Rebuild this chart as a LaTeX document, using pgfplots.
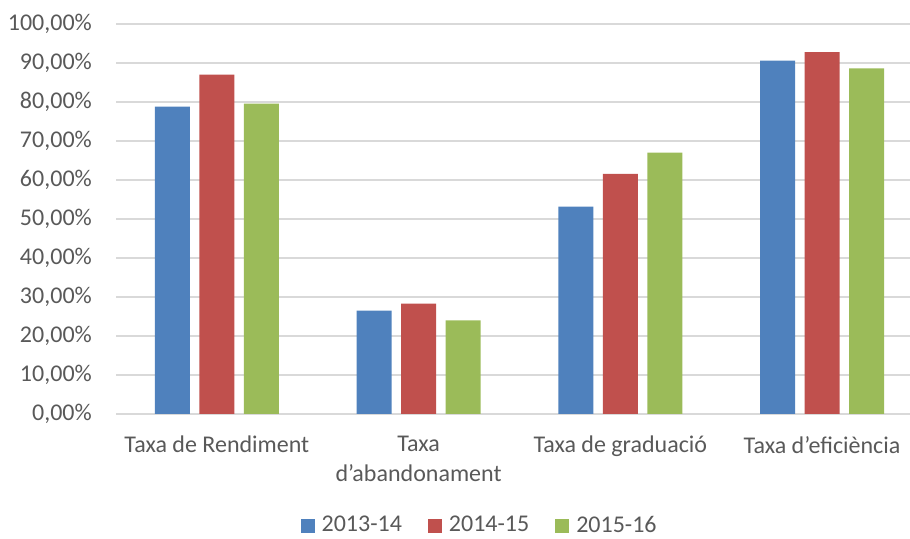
\documentclass[border=0pt]{standalone}
\usepackage{fontspec}
\setmainfont{Carlito}
\usepackage{pgfplots}
\pgfplotsset{compat=1.18}
\definecolor{cblue}{HTML}{4F81BD}
\definecolor{cred}{HTML}{C0504D}
\definecolor{cgreen}{HTML}{9BBB59}
\definecolor{ctext}{HTML}{595959}
\definecolor{cgrid}{HTML}{D9D9D9}
\begin{document}
\fontsize{24}{30}\selectfont
\begin{tikzpicture}
\useasboundingbox (0,0) rectangle (910pt,538pt);
\begin{axis}[
  at={(116pt,124pt)}, anchor=south west,
  scale only axis, width=794pt, height=390pt,
  xmin=-0.5, xmax=3.436, ymin=0, ymax=100,
  ybar=9.5pt, bar width=35pt,
  xtick={0,1,2,3},
  xticklabels={Taxa de Rendiment,{Taxa\\d’abandonament},Taxa de graduació,Taxa d’eficiència},
  xticklabel style={align=center, anchor=north, inner sep=0pt, yshift=-22pt, text=ctext},
  ytick={0,10,...,100},
  yticklabel={\pgfmathprintnumber[fixed,fixed zerofill,precision=2,use comma]{\tick}\%},
  /pgf/number format/assume math mode=true,
  yticklabel style={anchor=east, inner sep=0pt, xshift=-24pt, text=ctext},
  major tick length=0pt,
  ymajorgrids, grid style={cgrid, line width=1.4pt},
  axis x line*=bottom, axis y line*=left,
  x axis line style={cgrid, line width=1.4pt, -},
  y axis line style={draw=none},
  legend style={at={(0.458,0)}, anchor=center, yshift=-112pt, draw=none, fill=none,
    legend columns=-1, inner sep=0pt, text=ctext,
    /tikz/every odd column/.append style={column sep=5pt},
    /tikz/every even column/.append style={column sep=24pt}},
  legend image code/.code={\fill[#1] (0pt,-7pt) rectangle (14pt,7pt);},
]
\addplot[fill=cblue, draw=none] coordinates {(0,78.8) (1,26.5) (2,53.2) (3,90.6)};
\addplot[fill=cred, draw=none] coordinates {(0,87.0) (1,28.3) (2,61.6) (3,92.8)};
\addplot[fill=cgreen, draw=none] coordinates {(0,79.6) (1,24.0) (2,67.0) (3,88.6)};
\legend{2013-14,2014-15,2015-16}
\end{axis}
\end{tikzpicture}
\end{document}
